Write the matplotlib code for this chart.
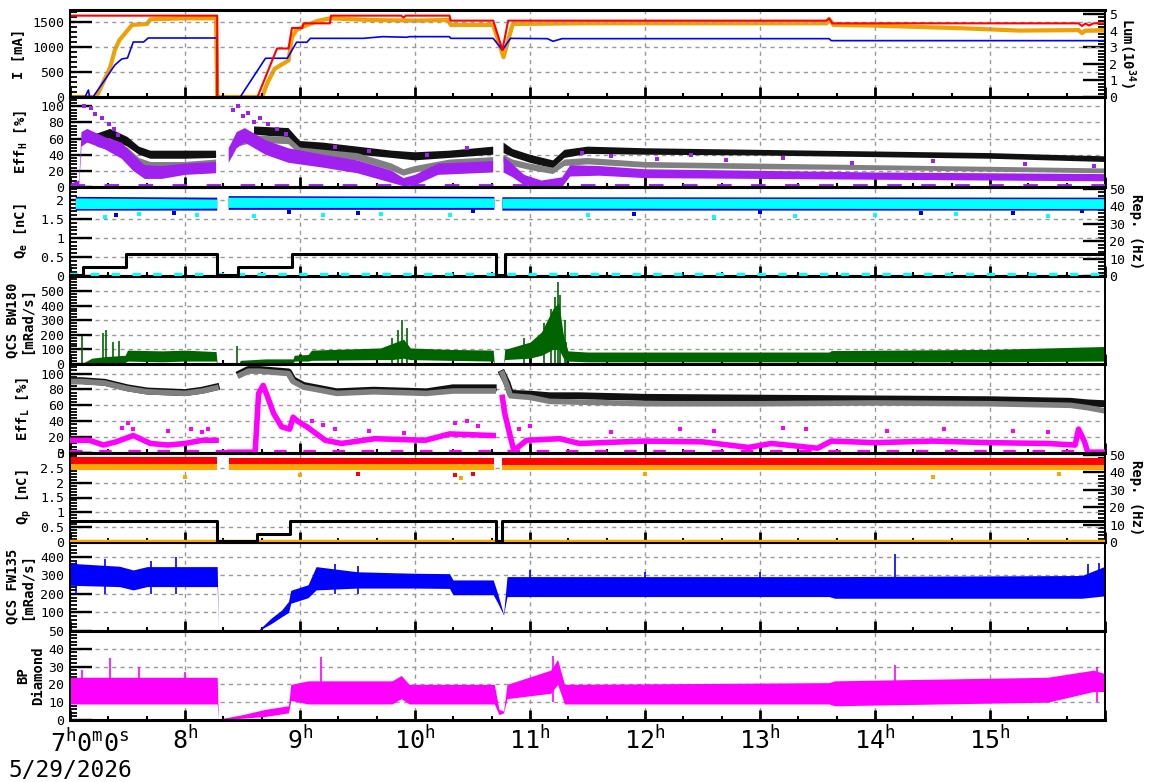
import matplotlib.pyplot as plt
import numpy as np
from matplotlib.ticker import MultipleLocator, FuncFormatter

nan = np.nan

# ---------------- beam currents [mA] and luminosity [1e34], time in hours
ler_t = [7.0, 8.28, 8.281, 8.63, 8.80, 8.90, 8.93, 9.02, 9.03, 9.26, 9.27, 9.88, 9.90, 9.92,
         10.30, 10.31, 10.68, 10.76, 10.81, 13.58, 13.60, 13.63, 15.77, 15.80, 15.83, 15.86, 15.90, 16.0]
ler_i = [1627, 1627, 0, 0, 970, 970, 1380, 1380, 1473, 1473, 1627, 1627, 1590, 1627,
         1627, 1527, 1527, 940, 1527, 1527, 1573, 1473, 1473, 1420, 1470, 1430, 1473, 1473]

her_t = [7.0, 7.13, 7.16, 7.17, 7.20, 7.32, 7.39, 7.45, 7.50, 7.55, 7.64, 7.68, 8.28, 8.281,
         8.48, 8.70, 8.89, 8.97, 9.06, 9.09, 9.55, 9.72, 9.93, 9.95, 10.30, 10.31, 10.68,
         10.76, 10.83, 11.15, 11.20, 11.28, 13.60, 13.62, 16.0]
her_i = [0, 0, 140, 0, 0, 400, 640, 760, 780, 1100, 1100, 1180, 1180, 0,
         0, 775, 775, 1095, 1095, 1173, 1173, 1207, 1195, 1207, 1207, 1173, 1173,
         940, 1173, 1167, 1115, 1167, 1167, 1127, 1127]

lum_t = [7.0, 7.23, 7.35, 7.39, 7.43, 7.54, 7.67, 7.70, 8.0, 8.27, 8.28, 8.67, 8.72, 8.78,
         8.90, 8.93, 8.97, 9.02, 9.15, 9.26, 9.6, 10.0, 10.29, 10.31, 10.68, 10.77, 10.85,
         11.5, 12.5, 13.58, 13.60, 13.64, 14.0, 14.76, 15.26, 15.77, 15.80, 15.83, 16.0]
lum_v = [0, 0, 1.8, 2.83, 3.43, 4.34, 4.4, 4.68, 4.74, 4.74, 0, 0, 0.9, 1.7,
         2.2, 3.6, 4.04, 4.22, 4.58, 4.74, 4.64, 4.6, 4.64, 4.34, 4.34, 2.4, 4.4,
         4.44, 4.44, 4.44, 4.7, 4.34, 4.3, 4.14, 4.0, 4.03, 3.85, 4.0, 4.03]

# ---------------- horizontal efficiency [%]
effh_blk_t = [7.23, 7.35, 7.5, 7.6, 7.7, 8.0, 8.27, nan, 8.6, 8.75, 8.9, 9.0, 9.2, 9.5, 9.8, 10.0,
              10.3, 10.68, nan, 10.77, 10.85, 11.0, 11.2, 11.3, 11.5, 12.0, 13.0, 14.0, 15.0, 15.5, 16.0]
effh_blk_lo = [57, 60, 50, 40, 35, 35, 36, nan, 65, 63, 62, 47, 45, 40, 36, 33,
               36, 40, nan, 42, 37, 30, 23, 36, 41, 40, 39, 37, 35, 33, 31]
effh_blk_hi = [66, 72, 62, 50, 45, 45, 45, nan, 75, 74, 73, 57, 55, 50, 45, 43,
               45, 50, nan, 55, 47, 40, 33, 46, 50, 48, 46, 44, 42, 40, 38]

effh_gry_t = [7.23, 7.35, 7.5, 7.6, 7.7, 8.0, 8.27, nan, 8.45, 8.6, 8.9, 9.0, 9.5, 9.8, 9.9, 10.0,
              10.3, 10.68, nan, 10.77, 10.85, 11.0, 11.2, 11.3, 11.5, 12.0, 13.0, 14.0, 15.0, 16.0]
effh_gry_lo = [50, 45, 40, 28, 23, 23, 26, nan, 50, 55, 53, 40, 33, 20, 14, 18,
               26, 30, nan, 30, 26, 21, 16, 26, 28, 24, 22, 21, 19, 17]
effh_gry_hi = [58, 54, 49, 36, 31, 31, 34, nan, 58, 64, 62, 49, 42, 29, 22, 26,
               34, 37, nan, 40, 34, 29, 24, 34, 36, 31, 29, 27, 25, 23]

effh_pur_t = [7.0, 7.08, 7.10, 7.15, 7.3, 7.45, 7.55, 7.65, 7.8, 8.0, 8.27, nan,
              8.38, 8.45, 8.52, 8.7, 8.9, 9.2, 9.5, 9.8, 9.9, 10.0, 10.2, 10.68, nan,
              10.77, 10.85, 10.95, 11.1, 11.28, 11.35, 11.6, 12.0, 13.0, 14.0, 15.0, 16.0]
effh_pur_lo = [0, 0, 50, 55, 47, 35, 20, 10, 10, 15, 17, nan,
               30, 48, 55, 40, 30, 24, 17, 5, 1, 2, 15, 18, nan,
               18, 12, 2, 0, 0, 13, 14, 11, 10, 9, 8, 7]
effh_pur_hi = [4, 8, 68, 72, 62, 55, 40, 27, 26, 29, 31, nan,
               48, 68, 73, 58, 48, 40, 33, 20, 11, 15, 29, 32, nan,
               38, 28, 15, 8, 12, 27, 26, 22, 20, 18, 17, 16]
effh_pur_out_t = [7.12, 7.18, 7.22, 7.28, 7.34, 7.38, 7.42, 8.42, 8.46, 8.5, 8.55, 8.6, 8.65, 8.72,
                  8.8, 8.88, 9.3, 9.6, 10.1, 10.45, 11.45, 11.7, 12.1, 12.4, 12.7, 13.2, 13.8, 14.5, 15.3, 15.9]
effh_pur_out_v = [100, 98, 90, 85, 78, 72, 65, 95, 100, 88, 92, 80, 85, 78,
                  72, 66, 50, 45, 40, 48, 42, 38, 35, 40, 33, 36, 30, 32, 28, 26]

# ---------------- electron charge [nC] and injection step
qe_t = [7.05, 8.28, nan, 8.38, 10.69, nan, 10.76, 16.0]
qe_blu_lo = [1.72, 1.72, nan, 1.74, 1.74, nan, 1.72, 1.72]
qe_blu_hi = [2.08, 2.06, nan, 2.10, 2.08, nan, 2.07, 2.06]
qe_cya_lo = [1.76, 1.77, nan, 1.79, 1.79, nan, 1.77, 1.76]
qe_cya_hi = [2.04, 2.01, nan, 2.06, 2.04, nan, 2.03, 2.02]
qe_cya_out_t = [7.3, 7.6, 8.1, 8.6, 9.2, 9.7, 10.3, 11.5, 12.6, 13.3, 14.0, 14.7, 15.5]
qe_cya_out_v = [1.55, 1.62, 1.6, 1.58, 1.6, 1.62, 1.6, 1.6, 1.55, 1.58, 1.6, 1.62, 1.58]
qe_blu_out_t = [7.4, 7.9, 8.9, 9.5, 10.5, 11.9, 13.0, 14.4, 15.2, 15.8]
qe_blu_out_v = [1.6, 1.65, 1.68, 1.65, 1.7, 1.62, 1.68, 1.65, 1.66, 1.7]
qe_step_t = [7.0, 7.11, 7.49, 8.28, 8.46, 8.93, 10.70, 10.78, 16.0]
qe_step_v = [0.02, 0.23, 0.58, 0.02, 0.23, 0.58, 0.02, 0.58, 0.58]
zero_t = [7.0, 16.0]
zero_v = [0.02, 0.02]

# ---------------- QCS BW180 dose rate [mRad/s]
bw_t = [7.00, 7.09, 7.12, 7.19, 7.30, 7.48, 7.50, 7.8, 8.0, 8.27, 8.28, 8.47, 8.48, 8.7, 8.94,
        8.95, 9.07, 9.10, 9.7, 9.8, 9.9, 9.96, 10.3, 10.68, 10.69, 10.77, 10.78, 11.0, 11.1,
        11.2, 11.25, 11.29, 11.33, 11.5, 13.6, 13.62, 15.0, 16.0]
bw_lo = [0, 0, 0, 0, 5, 10, 20, 15, 20, 20, 0, 0, 0, 5, 5,
         20, 20, 25, 30, 30, 40, 30, 25, 20, 0, 0, 30, 40, 60,
         100, 100, 40, 20, 15, 15, 15, 15, 20]
bw_hi = [2, 5, 10, 40, 50, 60, 95, 90, 95, 85, 0, 0, 25, 35, 35,
         60, 65, 95, 110, 140, 170, 110, 100, 95, 0, 0, 100, 150, 220,
         380, 420, 200, 90, 82, 82, 92, 100, 120]
bw_spk_t = [7.10, 7.29, 7.31, 7.37, 7.43, 8.45, 9.80, 9.85, 9.89, 9.93, 10.95, 11.12, 11.18,
            11.22, 11.24, 11.26, 11.30, 11.31]
bw_spk_v = [190, 212, 230, 150, 160, 125, 180, 230, 304, 250, 180, 280, 380,
            460, 561, 470, 300, 150]

# ---------------- luminous-region efficiency [%]
effl_gry_t = [7.0, 7.1, 7.3, 7.5, 7.67, 8.0, 8.15, 8.27, nan, 8.48, 8.55, 8.65, 8.9, 8.94, 9.03,
              9.32, 9.64, 10.1, 10.33, 10.68, nan, 10.76, 10.80, 10.83, 11.0, 11.17, 11.43, 12.0,
              13.0, 14.0, 15.0, 15.7, 15.85, 16.0]
effl_gry_v = [90, 90, 88, 81, 77, 75, 78, 82, nan, 98, 103, 103, 100, 90, 83,
              75, 77, 75, 78, 78, nan, 100, 85, 72, 70, 65, 64, 62,
              62, 63, 62, 60, 57, 53]
effl_blk_v = [91, 91, 89, 82, 78, 76, 79, 83, nan, 100, 105, 105, 102, 92, 85,
              77, 79, 77, 82, 82, nan, 100, 88, 75, 74, 72, 72, 70,
              69, 68, 67, 65, 63, 62]

effl_mag_t = [7.0, 7.17, 7.29, 7.4, 7.55, 7.7, 7.85, 8.0, 8.15, 8.27, nan, 8.39, 8.61, 8.64, 8.68,
              8.72, 8.77, 8.84, 8.91, 8.94, 8.98, 9.06, 9.22, 9.36, 9.65, 10.09, 10.3, 10.68, nan,
              10.76, 10.78, 10.83, 10.86, 10.97, 11.26, 11.43, 12.0, 12.5, 12.9, 13.1, 13.5, 13.62,
              14.0, 14.5, 15.0, 15.5, 15.74, 15.77, 15.82, 15.85, 16.0]
effl_mag_v = [16, 16, 10, 14, 22, 12, 10, 12, 16, 16, nan, 1, 1, 75, 85,
              70, 50, 33, 30, 45, 40, 33, 16, 12, 18, 16, 24, 22, nan,
              70, 50, 20, 3, 16, 18, 12, 15, 14, 7, 12, 6, 15,
              13, 15, 13, 12, 10, 30, 15, 1, 1]
effl_mag_out_t = [7.45, 7.5, 7.55, 7.85, 8.05, 8.15, 8.2, 9.1, 9.2, 9.3, 9.6, 9.9, 10.35, 10.45,
                  10.55, 10.9, 11.0, 11.7, 12.3, 12.6, 13.2, 13.4, 14.1, 14.6, 15.2, 15.5]
effl_mag_out_v = [32, 38, 30, 28, 30, 26, 30, 40, 35, 30, 28, 25, 38, 40,
                  34, 30, 34, 26, 30, 28, 32, 30, 28, 30, 28, 26]

# ---------------- positron charge [nC] and injection step
qp_t = [7.0, 8.28, nan, 8.38, 10.69, nan, 10.76, 16.0]
qp_red_lo = [2.62, 2.62, nan, 2.62, 2.62, nan, 2.60, 2.60]
qp_red_hi = [2.85, 2.85, nan, 2.84, 2.84, nan, 2.83, 2.83]
qp_org_lo = [2.43, 2.43, nan, 2.42, 2.42, nan, 2.42, 2.42]
qp_org_hi = [2.64, 2.64, nan, 2.64, 2.64, nan, 2.63, 2.63]
qp_org_out_t = [8.0, 9.0, 10.4, 12.0, 14.5, 15.6]
qp_org_out_v = [2.2, 2.25, 2.15, 2.3, 2.2, 2.3]
qp_red_out_t = [9.5, 10.35, 10.5]
qp_red_out_v = [2.3, 2.25, 2.3]
qp_step_t = [7.0, 8.28, 8.63, 8.91, 10.70, 10.76, 16.0]
qp_step_v = [0.72, 0.02, 0.27, 0.72, 0.02, 0.72, 0.72]

# ---------------- QCS FW135 dose rate [mRad/s]
fw_t = [7.00, 7.43, 7.55, 7.67, 8.28, 8.29, 8.64, 8.75, 8.84, 8.90, 8.92, 9.07, 9.14, 9.5,
        10.0, 10.30, 10.33, 10.68, 10.72, 10.77, 10.80, 13.6, 13.65, 15.8, 16.0]
fw_lo = [247, 240, 222, 240, 240, 2, 2, 40, 77, 100, 150, 180, 222, 232,
         232, 230, 196, 196, 150, 86, 186, 186, 177, 177, 190]
fw_hi = [366, 350, 330, 348, 348, 4, 5, 70, 113, 160, 220, 250, 348, 320,
         312, 310, 276, 276, 200, 90, 294, 294, 294, 300, 350]
fw_spk_t = [7.05, 7.3, 7.7, 7.92, 9.3, 9.5, 11.0, 12.0, 13.0, 14.17, 15.85, 15.95]
fw_spk_v = [380, 390, 380, 402, 360, 350, 330, 320, 320, 417, 360, 366]

# ---------------- BP diamond dose rate
bp_t = [7.00, 8.28, 8.29, 8.5, 8.7, 8.9, 8.92, 9.07, 9.8, 9.88, 9.95, 10.69, 10.73, 10.77,
        10.8, 11.18, 11.24, 11.3, 13.6, 13.65, 15.5, 15.9, 16.0]
bp_lo = [9, 9, 0, 1, 2, 4, 11, 9, 9, 12, 9, 9, 3, 4,
         12, 15, 20, 9, 9, 8, 10, 16, 16]
bp_hi = [24, 24, 0.5, 3, 6, 8, 20, 22, 22, 25, 20, 20, 6, 5,
         20, 28, 34, 20, 21, 22, 24, 28, 26]
bp_spk_t = [7.1, 7.35, 7.6, 8.0, 9.18, 11.2, 14.17, 15.93]
bp_spk_v = [28, 35, 30, 27, 35.6, 36, 31, 30]

hours = list(range(7, 17))

# ---------------- figure
plt.rcParams['font.family'] = 'DejaVu Sans Mono'
plt.rcParams['mathtext.fontset'] = 'custom'
plt.rcParams['mathtext.rm'] = 'DejaVu Sans Mono:bold'
plt.rcParams['mathtext.bf'] = 'DejaVu Sans Mono:bold'
plt.rcParams['mathtext.it'] = 'DejaVu Sans Mono:bold'
plt.rcParams['mathtext.sf'] = 'DejaVu Sans Mono'
plt.rcParams['mathtext.default'] = 'rm'

W, H = 1172, 782
L, R = 70, 1105
edges = [10, 97, 187, 276, 364, 453, 542, 631, 720]

fig = plt.figure(figsize=(W / 100, H / 100), dpi=100)
axes = []
for i in range(8):
    top, bot = edges[i], edges[i + 1]
    ax = fig.add_axes([L / W, 1 - bot / H, (R - L) / W, (bot - top) / H])
    axes.append(ax)

gfmt = FuncFormatter(lambda v, p: '%g' % v)
TICK_FS = 9.5


def style(ax, ylim, ticks, minor, label, lx):
    ax.set_xlim(7, 16)
    ax.set_ylim(*ylim)
    ax.set_yticks(ticks)
    ax.yaxis.set_major_formatter(gfmt)
    ax.yaxis.set_minor_locator(MultipleLocator(minor))
    ax.xaxis.set_major_locator(MultipleLocator(1))
    ax.xaxis.set_minor_locator(MultipleLocator(1 / 3))
    ax.tick_params(axis='y', which='major', direction='in', length=16, width=1.7,
                   labelsize=TICK_FS, pad=4, right=False)
    ax.tick_params(axis='y', which='minor', direction='in', length=5, width=1.3, right=False)
    ax.tick_params(axis='x', which='major', direction='in', length=7, width=2, top=False,
                   labelbottom=False)
    ax.tick_params(axis='x', which='minor', direction='in', length=3, width=1.5, top=False)
    ax.grid(True, which='major', color='#999999', linestyle=(0, (3, 3)), linewidth=1)
    for s in ('left', 'right'):
        ax.spines[s].set_linewidth(1.4)
    ax.spines['bottom'].set_linewidth(2.2)
    ax.spines['top'].set_linewidth(2.2)
    ax.set_ylabel(label, fontsize=10, fontweight='bold', va='center', ha='center',
                  linespacing=1.1)
    ax.yaxis.set_label_coords((lx - L) / (R - L), 0.5)


def right_axis(ax, ylim, ticks, minor, label, lx):
    ax2 = ax.twinx()
    ax2.set_ylim(*ylim)
    ax2.set_yticks(ticks)
    ax2.yaxis.set_major_formatter(gfmt)
    ax2.yaxis.set_minor_locator(MultipleLocator(minor))
    ax2.tick_params(axis='y', which='major', direction='in', length=16, width=1.7,
                    labelsize=TICK_FS, pad=3)
    ax2.tick_params(axis='y', which='minor', direction='in', length=5, width=1.3)
    ax2.set_ylabel(label, fontsize=10, fontweight='bold', rotation=270,
                   va='center', ha='center')
    ax2.yaxis.set_label_coords((lx - L) / (R - L), 0.5)
    for s in ax2.spines.values():
        s.set_visible(False)
    ax.set_zorder(ax2.get_zorder() + 1)
    ax.patch.set_visible(False)
    return ax2


def band(ax, t, lo, hi, color, z=2):
    ax.fill_between(t, lo, hi, color=color, linewidth=0, zorder=z)


def dots(ax, t, v, color, z=3):
    ax.scatter(t, v, s=9, marker='s', color=color, linewidth=0, zorder=z)


# 1: currents + luminosity
ax = axes[0]
style(ax, (0, 1740), [0, 500, 1000, 1500], 100, 'I [mA]', 19)
ax2 = right_axis(ax, (0, 5.24), [0, 1, 2, 3, 4, 5], 0.2, 'Lum(10$^{34}$)', 1127)
ax2.plot(lum_t, lum_v, color='#f0a000', linewidth=3)
ax.plot(her_t, her_i, color='#0000ff', linewidth=1.2)
ax.plot(ler_t, ler_i, color='#ff0000', linewidth=1.5)

# 2: horizontal efficiency
ax = axes[1]
style(ax, (0, 111.5), [0, 20, 40, 60, 80, 100], 4, 'Eff$_H$ [%]', 21)
band(ax, effh_blk_t, effh_blk_lo, effh_blk_hi, '#111111')
band(ax, effh_gry_t, effh_gry_lo, effh_gry_hi, '#808080')
band(ax, effh_pur_t, effh_pur_lo, effh_pur_hi, '#a020f0')
dots(ax, effh_pur_out_t, effh_pur_out_v, '#a020f0')
ax.plot(zero_t, [0.8, 0.8], color='#a020f0', linewidth=3.5, linestyle=(0, (3, 4)), zorder=3)

# 3: electron charge
ax = axes[2]
style(ax, (0, 2.34), [0, 0.5, 1, 1.5, 2], 0.1, 'Q$_e$ [nC]', 21)
right_axis(ax, (0, 51.1), [0, 10, 20, 30, 40, 50], 2, 'Rep. (Hz)', 1136)
band(ax, qe_t, qe_blu_lo, qe_blu_hi, '#0000e0')
band(ax, qe_t, qe_cya_lo, qe_cya_hi, '#00ffff')
dots(ax, qe_blu_out_t, qe_blu_out_v, '#0000e0')
dots(ax, qe_cya_out_t, qe_cya_out_v, '#00ffff')
ax.plot(qe_step_t, qe_step_v, color='black', linewidth=2.2, drawstyle='steps-post', zorder=4)
ax.plot(zero_t, zero_v, color='#00ffff', linewidth=3, linestyle=(0, (2, 3)), zorder=3)

# 4: QCS BW180
ax = axes[3]
style(ax, (0, 603), [0, 100, 200, 300, 400, 500], 20, 'QCS BW180\n[mRad/s]', 20)
band(ax, bw_t, bw_lo, bw_hi, '#006400')
ax.vlines(bw_spk_t, 0, bw_spk_v, color='#006400', linewidth=1.2, zorder=3)

# 5: luminous efficiency
ax = axes[4]
style(ax, (0, 112), [0, 20, 40, 60, 80, 100], 4, 'Eff$_L$ [%]', 23)
ax.plot(effl_gry_t, effl_blk_v, color='#111111', linewidth=5, zorder=2)
ax.plot(effl_gry_t, effl_gry_v, color='#808080', linewidth=4, zorder=2)
ax.plot(effl_mag_t, effl_mag_v, color='#ff00ff', linewidth=4, zorder=3)
dots(ax, effl_mag_out_t, effl_mag_out_v, '#ff00ff')
ax.plot(zero_t, [0.8, 0.8], color='#ff00ff', linewidth=3, linestyle=(0, (3, 4)), zorder=3)

# 6: positron charge
ax = axes[5]
style(ax, (0, 3.0), [0, 0.5, 1, 1.5, 2, 2.5, 3], 0.1, 'Q$_p$ [nC]', 24)
right_axis(ax, (0, 51.1), [0, 10, 20, 30, 40, 50], 2, 'Rep. (Hz)', 1136)
band(ax, qp_t, qp_org_lo, qp_org_hi, '#ffa500')
band(ax, qp_t, qp_red_lo, qp_red_hi, '#ff0000')
dots(ax, qp_org_out_t, qp_org_out_v, '#ffa500')
dots(ax, qp_red_out_t, qp_red_out_v, '#ff0000')
ax.plot(qp_step_t, qp_step_v, color='black', linewidth=2.2, drawstyle='steps-post', zorder=4)
ax.plot(zero_t, zero_v, color='#ffa500', linewidth=2.5, zorder=3)

# 7: QCS FW135
ax = axes[6]
style(ax, (0, 481), [100, 200, 300, 400], 20, 'QCS FW135\n[mRad/s]', 20)
band(ax, fw_t, fw_lo, fw_hi, '#0000ff')
ax.vlines(fw_spk_t, 200, fw_spk_v, color='#0000ff', linewidth=1.2, zorder=3)

# 8: BP diamond
ax = axes[7]
style(ax, (0, 50), [0, 10, 20, 30, 40, 50], 2, 'BP\nDiamond', 31)
band(ax, bp_t, bp_lo, bp_hi, '#ff00ff')
ax.vlines(bp_spk_t, 10, bp_spk_v, color='#ff00ff', linewidth=1.2, zorder=3)

ax.set_xticks(hours)
ax.set_xticklabels([''] + ['%d$^\\mathsf{h}$' % h for h in hours[1:-1]] + [''])
ax.tick_params(axis='x', which='major', labelbottom=True, labelsize=18, pad=4)

fig.text(50 / W, 1 - 752 / H, '7$^\\mathsf{h}$0$^\\mathsf{m}$0$^\\mathsf{s}$',
         fontsize=18, ha='left', va='baseline')
fig.text(8 / W, 1 - 777 / H, '5/29/2026', fontsize=16.5, ha='left', va='baseline')

fig.savefig('out.png', dpi=100)
